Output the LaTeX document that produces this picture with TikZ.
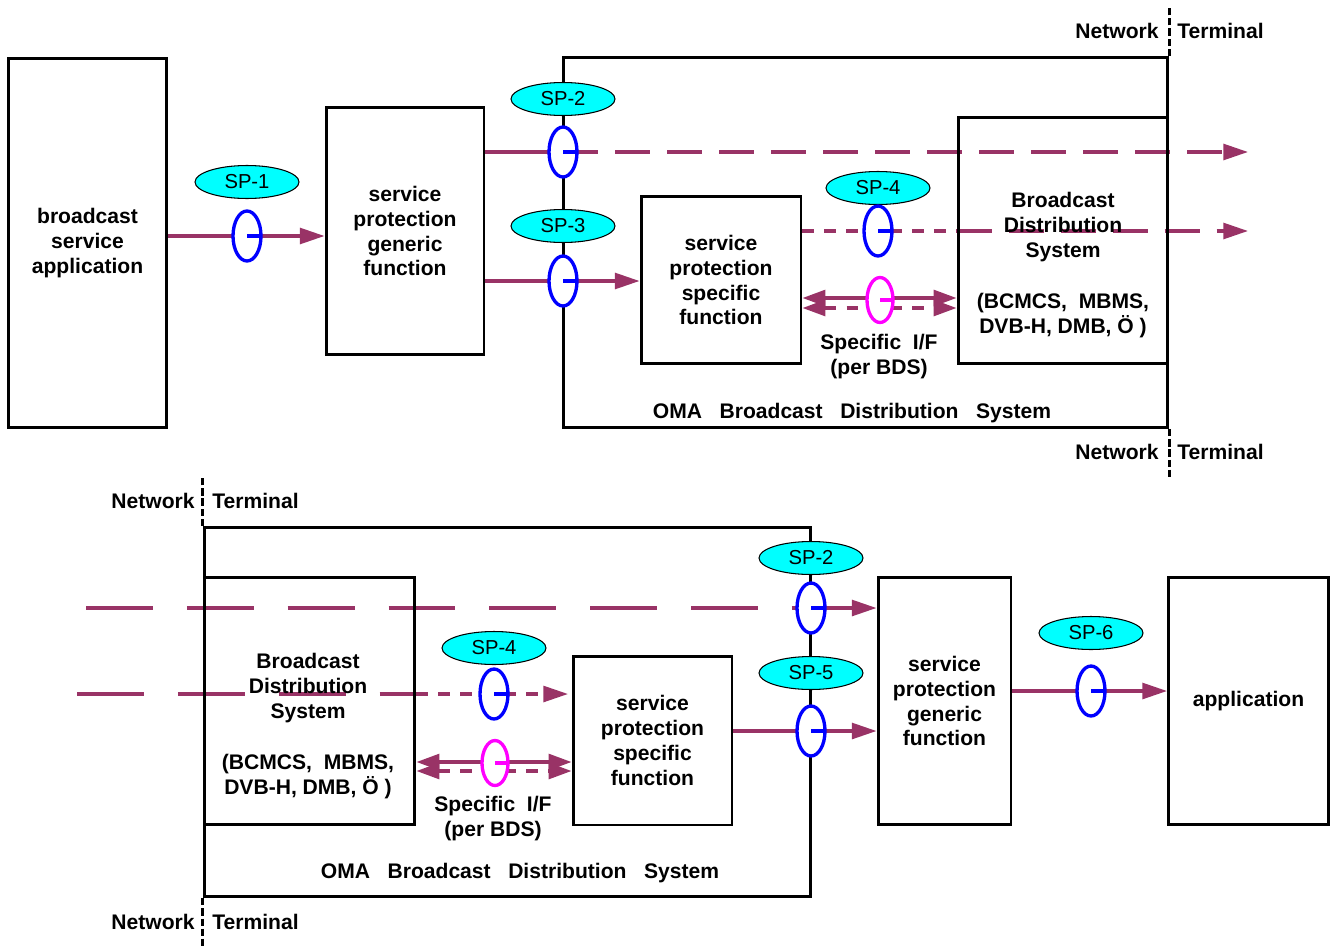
\documentclass[tikz,border=0pt]{standalone}
\usepackage{fontspec}
\setmainfont{Liberation Sans}
\usetikzlibrary{arrows.meta,shapes.geometric,backgrounds}
\definecolor{plum}{HTML}{993366}
\definecolor{aqua}{RGB}{0,255,255}
\definecolor{pink}{RGB}{255,0,255}
\definecolor{ringblue}{RGB}{0,0,255}

\begin{document}
\begin{tikzpicture}[x=0.02cm,y=-0.02cm,
		box/.style={draw,line width=1.7pt,inner sep=0pt,align=center,font=\bfseries\fontsize{12}{14.2}\selectfont},
		txt/.style={inner sep=0pt,align=center,font=\bfseries\fontsize{12}{14.2}\selectfont},
		sp/.style={ellipse,draw,fill=aqua,line width=0.6pt,minimum width=2.08cm,minimum height=0.66cm,inner sep=0pt,font=\fontsize{11.5}{13}\selectfont},
		ring/.style={ellipse,draw=#1,fill=white,line width=1.9pt,minimum width=0.56cm,minimum height=1cm,inner sep=0pt,
			path picture={\draw[#1,line width=1.9pt] (path picture bounding box.center) -- (path picture bounding box.east);}},
		link/.style={plum,line width=1.8pt},
		flow/.style={link,-{Triangle[length=14pt,width=9pt]}},
		both/.style={link,{Triangle[length=13pt,width=9pt]}-{Triangle[length=13pt,width=9pt]}},
		longA/.style={dash pattern=on 19.9pt off 9.7pt},
		longB/.style={dash pattern=on 38.1pt off 19.3pt},
		shortd/.style={dash pattern=on 6.8pt off 5.7pt},
		border/.style={line width=1.7pt,dash pattern=on 4pt off 1.7pt}]
	\useasboundingbox (0,0) rectangle (1337,946);

	% upper half
	\node[box,minimum width=3.18cm,minimum height=7.40cm] (bsa) at (87.5,243) {broadcast\\service\\application};
	\node[box,minimum width=3.16cm,minimum height=4.94cm] (spgfA) at (405,231) {service\\protection\\generic\\function};
	\node[box,minimum width=12.10cm,minimum height=7.42cm] (omaA) at (865.5,242.5) {};
	\node[box,minimum width=3.20cm,minimum height=3.36cm] (spsfA) at (721,280) {service\\protection\\specific\\function};
	\node[box,minimum width=4.20cm,minimum height=4.94cm] (bdsA) at (1063,240.5) {};
	\node[txt] (bdsAtxt) at (1063,265) {Broadcast\\Distribution\\System\\[14.8pt](BCMCS,\ \ MBMS,\\DVB-H, DMB, Ö )};
	\node[txt] (ifAtxt) at (879,357) {Specific\ \ I/F\\(per BDS)};
	\node[txt] (omaAtxt) at (852,413) {OMA\hspace{10pt}Broadcast\hspace{10pt}Distribution\hspace{10pt}System};

	\draw[border] (omaA.north east) -- ++(0,-49);
	\draw[border] (omaA.south east) -- ++(0,50);
	\node[txt,anchor=east] (netA) at (1159,31) {Network};
	\node[txt,anchor=west] (termA) at (1177,31) {Terminal};
	\node[txt,anchor=east] (netA2) at (1159,452) {Network};
	\node[txt,anchor=west] (termA2) at (1177,452) {Terminal};

	\node[sp] (sp1) at (247,182) {SP-1};
	\node[ring=ringblue] (r1) at (247,236) {};
	\node[sp] (sp2) at (563,99) {SP-2};
	\node[ring=ringblue] (r2) at (563,152) {};
	\node[sp] (sp3) at (563,226) {SP-3};
	\node[ring=ringblue] (r3) at (563,281) {};
	\node[sp] (sp4) at (878,188) {SP-4};
	\node[ring=ringblue] (r4) at (878,231) {};
	\node[ring=pink,minimum width=0.52cm,minimum height=0.9cm] (m1) at (880,300) {};

	\coordinate (outA1) at (1248,152);
	\coordinate (outA2) at (1248,231);
	\coordinate (ifA) at (880,298);
	\coordinate (ifA2) at (880,308);

	\begin{scope}[on background layer]
		\draw[flow] (bsa.east |- r1) -- (spgfA.west |- r1);
		\draw[link] (spgfA.east |- r2) -- (r2.center);
		\draw[flow,longA] (r2.center) -- (outA1);
		\draw[flow] (spgfA.east |- r3) -- (spsfA.west |- r3);
		\draw[link,shortd] (spsfA.east |- r4) -- (bdsA.west |- r4);
		\draw[flow,longA] (bdsA.west |- r4) -- (outA2);
		\draw[both] (spsfA.east |- ifA) -- (bdsA.west |- ifA);
		\draw[both,shortd] (spsfA.east |- ifA2) -- (bdsA.west |- ifA2);
	\end{scope}

	% lower half
	\node[box,minimum width=12.14cm,minimum height=7.40cm] (omaB) at (507.5,712) {};
	\node[box,minimum width=4.22cm,minimum height=4.96cm] (bdsB) at (309.5,701) {};
	\node[txt] (bdsBtxt) at (308,726) {Broadcast\\Distribution\\System\\[14.8pt](BCMCS,\ \ MBMS,\\DVB-H, DMB, Ö )};
	\node[box,minimum width=3.18cm,minimum height=3.38cm] (spsfB) at (652.5,740.5) {service\\protection\\specific\\function};
	\node[box,minimum width=2.66cm,minimum height=4.96cm] (spgfB) at (944.5,701) {service\\protection\\generic\\function};
	\node[box,minimum width=3.20cm,minimum height=4.96cm] (app) at (1248.5,701) {application};
	\node[txt] (ifBtxt) at (493,819) {Specific\ \ I/F\\(per BDS)};
	\node[txt] (omaBtxt) at (520,873) {OMA\hspace{10pt}Broadcast\hspace{10pt}Distribution\hspace{10pt}System};

	\draw[border] (omaB.north west) -- ++(0,-49);
	\draw[border] (omaB.south west) -- ++(0,49);
	\node[txt,anchor=east] (netB) at (195,501) {Network};
	\node[txt,anchor=west] (termB) at (212,501) {Terminal};
	\node[txt,anchor=east] (netB2) at (195,922) {Network};
	\node[txt,anchor=west] (termB2) at (212,922) {Terminal};

	\node[sp] (sp2b) at (811,558) {SP-2};
	\node[ring=ringblue] (r2b) at (811,608) {};
	\node[sp] (sp5) at (811,673) {SP-5};
	\node[ring=ringblue] (r5) at (811,731) {};
	\node[sp] (sp4b) at (494,648) {SP-4};
	\node[ring=ringblue] (r4b) at (494,694) {};
	\node[sp] (sp6) at (1091,633) {SP-6};
	\node[ring=ringblue] (r6) at (1091,691) {};
	\node[ring=pink,minimum width=0.52cm,minimum height=0.9cm] (m2) at (495,763) {};

	\coordinate (inB1) at (86,608);
	\coordinate (inB2) at (77,694);
	\coordinate (ifB) at (495,762);
	\coordinate (ifB2) at (495,771);

	\begin{scope}[on background layer]
		\draw[link,longB] (inB1) -- (r2b.center);
		\draw[flow] (r2b.center) -- (spgfB.west |- r2b);
		\draw[link,longB] (inB2) -- (bdsB.east |- r4b);
		\draw[flow,shortd,shorten >=2pt] (bdsB.east |- r4b) -- (spsfB.west |- r4b);
		\draw[flow] (spsfB.east |- r5) -- (spgfB.west |- r5);
		\draw[flow] (spgfB.east |- r6) -- (app.west |- r6);
		\draw[both] (bdsB.east |- ifB) -- (spsfB.west |- ifB);
		\draw[both,shortd] (bdsB.east |- ifB2) -- (spsfB.west |- ifB2);
	\end{scope}

\end{tikzpicture}
\end{document}
